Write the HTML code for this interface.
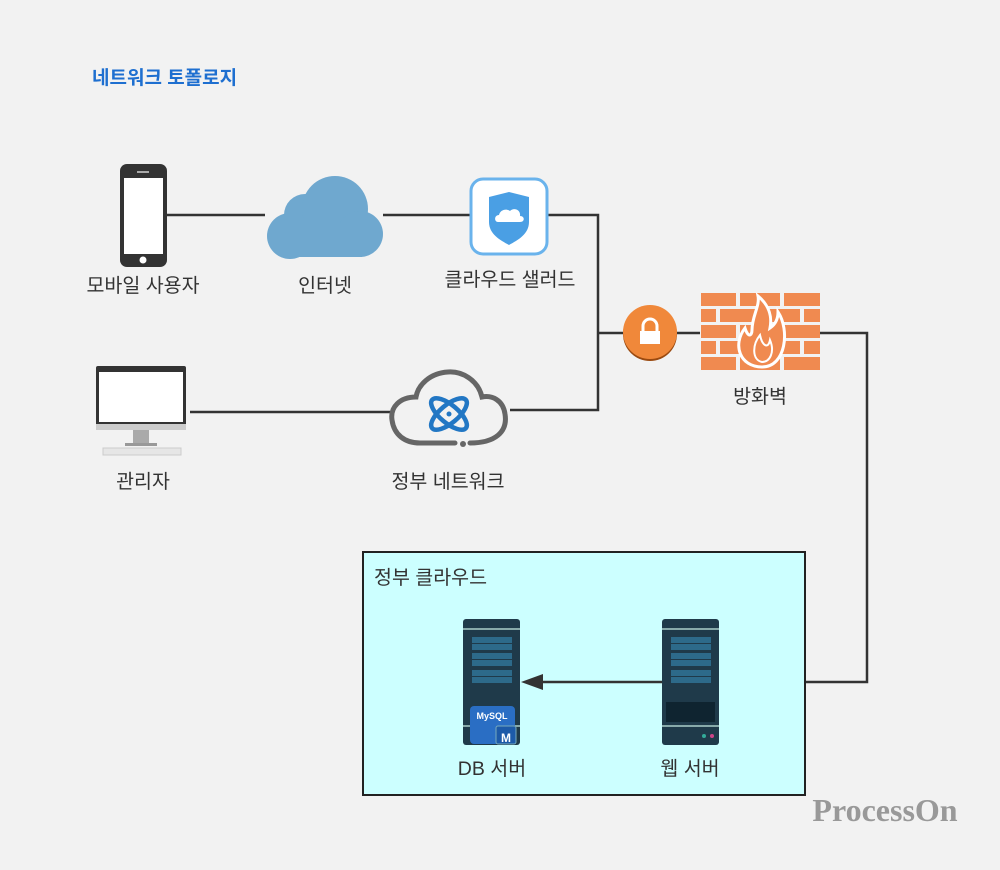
<!DOCTYPE html>
<html><head><meta charset="utf-8"><style>
html,body{margin:0;padding:0;background:#f2f2f2;}
svg{display:block;}
text{font-family:"Liberation Sans","Noto Sans CJK KR",sans-serif;}
text.wm{font-family:"Liberation Serif",serif;}
</style></head><body>
<svg width="1000" height="870" viewBox="0 0 1000 870" xmlns="http://www.w3.org/2000/svg">
<rect width="1000" height="870" fill="#f2f2f2"/>
<text x="92" y="84" font-size="19" font-weight="bold" fill="#1e6fd0">네트워크 토폴로지</text>

<g stroke="#333" stroke-width="2.5" fill="none">
<line x1="167" y1="215" x2="265" y2="215"/>
<line x1="383" y1="215" x2="470" y2="215"/>
<polyline points="548,215 598,215 598,410 510,410"/>
<line x1="598" y1="333" x2="624" y2="333"/>
<line x1="676" y1="333" x2="700" y2="333"/>
<polyline points="820,333 867,333 867,682 719,682"/>
<line x1="190" y1="412" x2="390" y2="412"/>
</g>

<rect x="120" y="164" width="47" height="103" rx="7" fill="#333"/>
<rect x="124" y="178" width="39" height="76" fill="#fff"/>
<circle cx="143" cy="260" r="3.5" fill="#fff"/>
<rect x="137" y="171" width="12" height="2" fill="#aaa"/>
<text x="143" y="292" font-size="19.5" fill="#333" text-anchor="middle">모바일 사용자</text>

<g fill="#6fa8cf">
<circle cx="290" cy="236" r="23"/>
<circle cx="305" cy="215" r="21"/>
<circle cx="335" cy="209" r="33"/>
<circle cx="360" cy="234" r="23"/>
<rect x="288" y="225" width="74" height="32"/>
</g>
<text x="325" y="292" font-size="19.5" fill="#333" text-anchor="middle">인터넷</text>

<rect x="471" y="179" width="76" height="75" rx="12" fill="#fff" stroke="#6ab3ec" stroke-width="3"/>
<path d="M509,192 L529,197 L529,222 C529,234 518,240 509,245 C500,240 489,234 489,222 L489,197 Z" fill="#4a9fe4"/>
<path d="M498,222 C494,222 494,215 499,215 C500,210 506,208 510,211 C514,207 521,210 520,216 C525,216 525,222 520,222 Z" fill="#fff"/>
<text x="510" y="286" font-size="19.5" fill="#333" text-anchor="middle">클라우드 샐러드</text>

<circle cx="650" cy="334" r="27" fill="#9a4a10"/>
<circle cx="650" cy="332" r="27" fill="#f0883a"/>
<path d="M643,332 v-6 a7,7 0 0 1 14,0 v6" fill="none" stroke="#fff" stroke-width="3"/>
<rect x="640" y="331" width="20" height="13" fill="#fff"/>

<g fill="#f08a50">
<rect x="701" y="293" width="35" height="13"/><rect x="740" y="293" width="40" height="13"/><rect x="784" y="293" width="36" height="13"/>
<rect x="701" y="309" width="15" height="13"/><rect x="720" y="309" width="38" height="13"/><rect x="762" y="309" width="38" height="13"/><rect x="804" y="309" width="16" height="13"/>
<rect x="701" y="325" width="35" height="13"/><rect x="740" y="325" width="40" height="13"/><rect x="784" y="325" width="36" height="13"/>
<rect x="701" y="341" width="15" height="13"/><rect x="720" y="341" width="38" height="13"/><rect x="762" y="341" width="38" height="13"/><rect x="804" y="341" width="16" height="13"/>
<rect x="701" y="357" width="35" height="13"/><rect x="740" y="357" width="40" height="13"/><rect x="784" y="357" width="36" height="13"/>
</g>
<path d="M762,367 C740,367 732,345 745,328 C748,338 752,336 752,330 C752,316 760,306 758,296 C770,306 772,318 770,328 C776,324 778,318 778,312 C790,330 786,367 762,367 Z" fill="#f08a50" stroke="#fff" stroke-width="3"/>
<path d="M762,362 C752,360 752,345 760,335 C762,345 768,350 770,340 C775,352 770,362 762,362 Z" fill="none" stroke="#fff" stroke-width="2"/>
<text x="760" y="403" font-size="19.5" fill="#333" text-anchor="middle">방화벽</text>

<rect x="96" y="366" width="90" height="64" rx="2" fill="#333"/>
<rect x="99" y="372" width="84" height="50" fill="#fff"/>
<rect x="96" y="424" width="90" height="6" fill="#ccc"/>
<rect x="133" y="430" width="16" height="14" fill="#aaa"/>
<rect x="125" y="443" width="32" height="3" fill="#999"/>
<rect x="103" y="448" width="78" height="7" fill="#e6e6e6" stroke="#ccc"/>
<text x="143" y="488" font-size="19.5" fill="#333" text-anchor="middle">관리자</text>

<path d="M470,443 C495,443 508,432 505,414 C503,400 492,395 482,397 C478,380 462,371 448,372 C430,373 418,385 416,397 C400,397 390,407 392,420 C394,435 405,443 420,443 L455,443" fill="none" stroke="#666" stroke-width="5" stroke-linecap="round"/>
<circle cx="463" cy="444" r="3" fill="#666"/>
<g fill="none" stroke="#2277c4" stroke-width="4.5">
<ellipse cx="449" cy="414" rx="22" ry="9" transform="rotate(40 449 414)"/>
<ellipse cx="449" cy="414" rx="22" ry="9" transform="rotate(-40 449 414)"/>
</g>
<circle cx="449" cy="414" r="2.5" fill="#2277c4"/>
<text x="448" y="488" font-size="19.5" fill="#333" text-anchor="middle">정부 네트워크</text>

<rect x="363" y="552" width="442" height="243" fill="#ccffff" stroke="#222" stroke-width="2"/>
<text x="374" y="584" font-size="19.5" fill="#333">정부 클라우드</text>

<line x1="663" y1="682" x2="540" y2="682" stroke="#333" stroke-width="2.5"/>
<polygon points="521,682 543,674 543,690" fill="#333"/>

<g>
<rect x="463" y="619" width="57" height="126" rx="3" fill="#1f3a4a"/>
<rect x="463" y="628" width="57" height="2" fill="#8aa"/>
<rect x="463" y="725" width="57" height="2" fill="#8aa"/>
<g fill="#2d6a8a"><rect x="472" y="637" width="40" height="6"/><rect x="472" y="644" width="40" height="6"/><rect x="472" y="653" width="40" height="6"/><rect x="472" y="660" width="40" height="6"/><rect x="472" y="670" width="40" height="6"/><rect x="472" y="677" width="40" height="6"/></g>
<rect x="470" y="706" width="45" height="38" rx="4" fill="#2a6ec4"/>
<text x="492" y="719" font-size="9" font-weight="bold" fill="#fff" text-anchor="middle">MySQL</text>
<rect x="496" y="726" width="20" height="18" rx="2" fill="#1d5aa8" stroke="#7ab" stroke-width="1"/>
<text x="506" y="742" font-size="12" font-weight="bold" fill="#fff" text-anchor="middle">M</text>
</g>
<g>
<rect x="662" y="619" width="57" height="126" rx="3" fill="#1f3a4a"/>
<rect x="662" y="628" width="57" height="2" fill="#8aa"/>
<rect x="662" y="725" width="57" height="2" fill="#8aa"/>
<g fill="#2d6a8a"><rect x="671" y="637" width="40" height="6"/><rect x="671" y="644" width="40" height="6"/><rect x="671" y="653" width="40" height="6"/><rect x="671" y="660" width="40" height="6"/><rect x="671" y="670" width="40" height="6"/><rect x="671" y="677" width="40" height="6"/></g>
<rect x="666" y="702" width="49" height="20" fill="#0f2430"/>
<circle cx="704" cy="736" r="2" fill="#3a9"/><circle cx="712" cy="736" r="2" fill="#c48"/>
</g>
<text x="492" y="775" font-size="19.5" fill="#333" text-anchor="middle">DB 서버</text>
<text x="690" y="775" font-size="19.5" fill="#333" text-anchor="middle">웹 서버</text>

<text class="wm" x="885" y="821" font-size="32" font-weight="bold" fill="#999" text-anchor="middle">ProcessOn</text>
</svg>
</body></html>
